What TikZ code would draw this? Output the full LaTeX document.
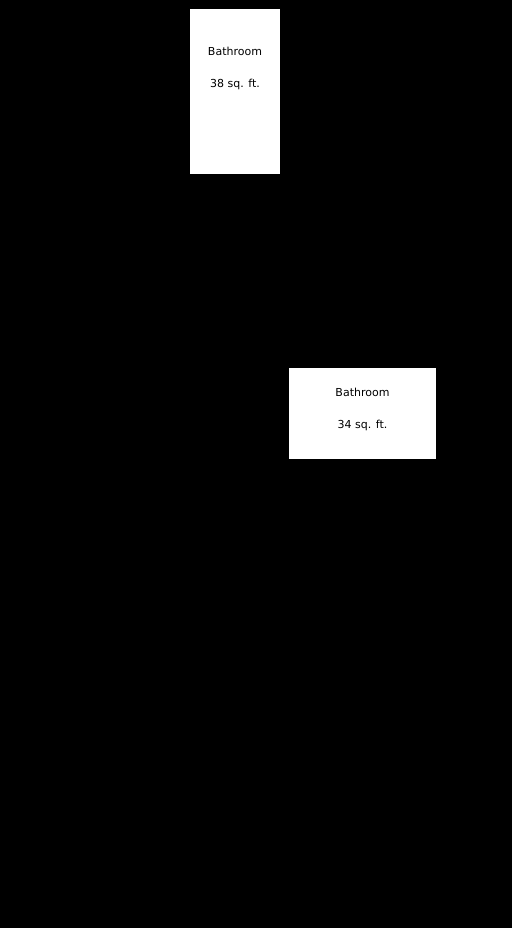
\documentclass[tikz,border=0pt]{standalone}
\usepackage{fontspec}
\setsansfont{DejaVu Sans}
\usepackage{tikz}
\tikzset{%
  room/.style     = {shape=rectangle, fill=white, draw=none, inner sep=0pt},%
  roomtext/.style = {anchor=base, inner sep=0pt, text=black,%
                     font=\sffamily\fontsize{11}{13}\selectfont}%
}
\begin{document}
\begin{tikzpicture}[x=1pt, y=-1pt]
              % -------------- BACKGROUND --------------------------------------
              \fill[black] (0,0) rectangle (512,928);
              \useasboundingbox (0,0) rectangle (512,928);
              % -------------- UPPER BATHROOM ----------------------------------
              \node [room, minimum width=90pt, minimum height=165pt] (BA) at (235,91.5) {};
              \node [roomtext] (BAname) at (235,55.5) {Bathroom};
              \node [roomtext] (BAsize) at (235,87.5) {38 sq. ft.};
              % -------------- LOWER BATHROOM ----------------------------------
              \node [room, minimum width=147pt, minimum height=91pt] (BB) at (362.5,413.5) {};
              \node [roomtext] (BBname) at (362.5,396) {Bathroom};
              \node [roomtext] (BBsize) at (362.5,428) {34 sq. ft.};
\end{tikzpicture}
\end{document}
